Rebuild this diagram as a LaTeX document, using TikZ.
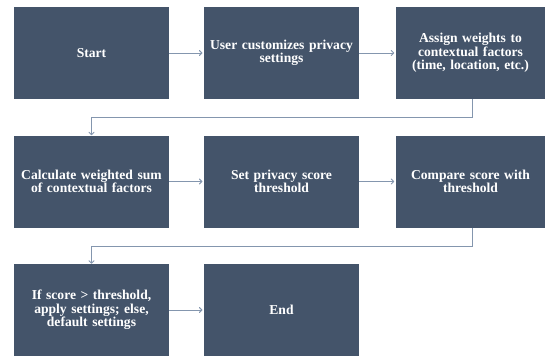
\documentclass[tikz,border=0pt]{standalone}
\usepackage{fontspec}
\setmainfont{Liberation Serif}
\usetikzlibrary{arrows.meta}

\definecolor{boxfill}{HTML}{44546A}
\definecolor{linkgray}{HTML}{8496AE}

\tikzset{
  stepbox/.style={draw=none,fill=boxfill,text=white,font=\bfseries\fontsize{10.2}{10}\selectfont,
    align=center,minimum width=116.25pt,minimum height=69pt,text width=108pt,inner sep=0pt},
  narrowbox/.style={stepbox,minimum width=112pt,text width=106pt},
  link/.style={draw=linkgray,line width=0.75pt,-{To[length=2.6pt,width=4.5pt]}}
}

\begin{document}
\begin{tikzpicture}[x=0.75pt,y=-0.75pt]

    \useasboundingbox (0,0) rectangle (549,358);
          % Canvas in pixel units of the reference.

    % First row
    \node[stepbox] (start) at (91.5,53) {Start};
    \node[stepbox] (custom) at (281.5,53) {User customizes privacy\\settings};
    \node[narrowbox] (weights) at (470.5,53) {Assign weights to\\contextual factors\\(time, location, etc.)};

    % Second row
    \node[stepbox] (calc) at (91.5,181.5) {Calculate weighted sum\\of contextual factors};
    \node[stepbox] (thresh) at (281.5,181.5) {Set privacy score\\threshold};
    \node[narrowbox] (compare) at (470.5,181.5) {Compare score with\\threshold};

    % Third row
    \node[stepbox] (apply) at (91.5,310) {If score > threshold,\\apply settings; else,\\default settings};
    \node[stepbox] (end) at (281.5,310) {End};

    \coordinate (turnA) at (472,117);
    \coordinate (turnB) at (472,246);

		\draw[link] (start.east) -- ([xshift=-1pt]custom.west);
		\draw[link] (custom.east) -- ([xshift=-1pt]weights.west);
		\draw[link] (weights.south -| turnA) -- (turnA) -| (calc.north);
		\draw[link] (calc.east) -- ([xshift=-1pt]thresh.west);
		\draw[link] (thresh.east) -- ([xshift=-1pt]compare.west);
		\draw[link] (compare.south -| turnB) -- (turnB) -| (apply.north);
		\draw[link] (apply.east) -- ([xshift=-1pt]end.west);

\end{tikzpicture}
\end{document}
